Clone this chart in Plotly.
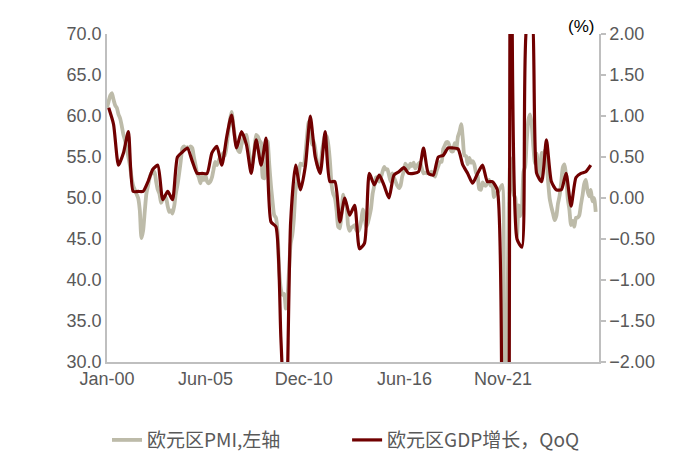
import pandas as pd
import plotly.graph_objects as go

# ---- data ----
# Eurozone composite PMI, monthly, Jan-2000 .. Nov-2024 (left axis)
pmi_start = "2000-01-01"
pmi = [
    61.0, 61.8, 62.5, 62.8, 62.0, 61.3, 61.0, 60.2, 59.7, 58.8, 57.7, 57.0,   # 2000
    56.0, 55.0, 54.0, 52.5, 51.5, 51.0, 50.5, 50.0, 48.5, 45.1, 46.0, 48.3,   # 2001
    50.5, 51.5, 52.4, 53.0, 53.0, 53.2, 52.0, 51.0, 50.5, 49.4, 49.8, 50.2,   # 2002
    50.0, 49.0, 48.3, 48.5, 48.1, 49.0, 50.5, 51.6, 53.0, 54.5, 56.1, 56.3,   # 2003
    56.0, 56.2, 56.0, 56.3, 56.1, 55.0, 54.0, 53.0, 52.5, 51.8, 52.8, 52.2,   # 2004
    52.8, 52.0, 51.8, 52.0, 52.5, 53.5, 54.4, 54.0, 54.5, 55.0, 55.2, 55.5,   # 2005
    55.2, 56.5, 58.0, 59.5, 60.5, 59.0, 57.5, 56.5, 55.8, 55.6, 56.5, 57.2,   # 2006
    57.5, 57.7, 56.5, 55.0, 53.6, 54.5, 56.0, 57.7, 57.5, 57.0, 56.7, 52.5,   # 2007
    52.4, 54.5, 56.9, 54.0, 51.5, 49.5, 47.9, 47.6, 45.9, 41.1, 38.9, 38.2,   # 2008
    38.3, 36.5, 37.6, 41.1, 44.4, 45.5, 47.5, 51.0, 52.0, 53.0, 54.2, 54.1,   # 2009
    54.0, 55.5, 57.5, 59.3, 58.0, 56.5, 57.0, 56.0, 54.5, 53.6, 53.6, 55.5,   # 2010
    56.8, 57.7, 57.5, 56.5, 54.5, 51.6, 50.5, 50.0, 48.5, 46.5, 46.3, 48.0,   # 2011
    50.4, 49.3, 49.1, 46.7, 46.0, 46.4, 46.5, 46.7, 46.1, 45.9, 46.3, 47.2,   # 2012
    48.6, 47.9, 46.5, 46.9, 47.7, 48.7, 50.5, 51.5, 52.5, 52.5, 52.0, 52.5,   # 2013
    53.2, 53.8, 53.5, 53.5, 52.8, 52.0, 53.0, 52.5, 52.0, 51.5, 51.2, 51.5,   # 2014
    52.6, 53.3, 54.2, 53.9, 53.6, 54.2, 53.9, 54.3, 53.6, 53.9, 54.2, 54.3,   # 2015
    53.6, 53.0, 53.1, 53.0, 53.1, 53.1, 53.2, 52.9, 52.6, 53.3, 53.9, 54.4,   # 2016
    54.4, 56.0, 56.4, 56.8, 56.8, 56.3, 55.7, 55.7, 56.7, 56.0, 57.5, 58.1,   # 2017
    59.0, 57.1, 55.2, 55.1, 54.1, 54.9, 54.3, 54.5, 54.1, 53.1, 52.7, 51.1,   # 2018
    51.0, 51.9, 51.6, 51.5, 51.8, 52.2, 51.5, 51.9, 50.1, 50.6, 50.6, 50.9,   # 2019
    51.3, 51.6, 29.7, 13.6, 31.9, 48.5, 54.9, 51.9, 50.4, 50.0, 45.3, 49.1,   # 2020
    47.8, 48.8, 53.2, 53.8, 57.1, 59.5, 60.2, 59.0, 56.2, 54.2, 55.4, 53.3,   # 2021
    52.3, 55.5, 54.9, 55.8, 54.8, 52.0, 49.9, 48.9, 48.1, 47.3, 47.8, 49.3,   # 2022
    50.3, 52.0, 53.7, 54.1, 52.8, 49.9, 48.6, 46.7, 47.2, 46.5, 47.6, 47.6,   # 2023
    47.9, 49.2, 50.3, 51.7, 52.2, 50.9, 50.2, 51.0, 49.6, 50.0, 48.3,         # 2024
]

# Eurozone GDP growth QoQ (%), quarterly Q1-2000 .. Q3-2024 (right axis)
gdp_start = "2000-02-01"   # plotted at mid-quarter month
gdp = [
    1.10, 0.90, 0.40, 0.55,     # 2000
    0.81, 0.08, 0.08, 0.08,     # 2001
    0.20, 0.35, 0.40, -0.02,    # 2002
    0.08, -0.02, 0.50, 0.56,    # 2003
    0.61, 0.45, 0.30, 0.30,     # 2004
    0.30, 0.55, 0.63, 0.40,     # 2005
    0.75, 1.01, 0.61, 0.81,     # 2006
    0.65, 0.30, 0.71, 0.40,     # 2007
    0.73, -0.29, -0.35, -1.70,  # 2008
    -3.00, -0.30, 0.40, 0.10,   # 2009
    0.40, 1.00, 0.50, 0.30,     # 2010
    0.81, 0.20, 0.20, -0.29,    # 2011
    0.00, -0.21, -0.09, -0.62,  # 2012
    -0.55, 0.30, 0.16, 0.28,    # 2013
    0.15, 0.00, 0.28, 0.32,     # 2014
    0.37, 0.30, 0.30, 0.32,     # 2015
    0.61, 0.30, 0.28, 0.50,     # 2016
    0.52, 0.61, 0.61, 0.60,     # 2017
    0.40, 0.30, 0.18, 0.30,     # 2018
    0.40, 0.20, 0.20, 0.10,     # 2019
    -3.50, -11.60, 12.40, -0.50,  # 2020
    -0.60, 2.10, 2.20, 0.30,    # 2021
    0.20, 0.71, 0.20, 0.10,     # 2022
    0.10, 0.30, -0.10, 0.25,    # 2023
    0.30, 0.32, 0.40,           # 2024
]

# category labels shown under the axis, at the positions they occupy in the reference
tick_dates = ["2000-01-01", "2005-01-01", "2010-01-01", "2015-02-15", "2020-02-15"]
tick_text = ["Jan-00", "Jun-05", "Dec-10", "Jun-16", "Nov-21"]

pmi_name = "欧元区PMI,左轴"
gdp_name = "欧元区GDP增长，QoQ"

pmi_dates = pd.date_range(pmi_start, periods=len(pmi), freq="MS")
gdp_dates = pd.date_range(gdp_start, periods=len(gdp), freq="3MS")

GREY = "#BDBBA9"
RED = "#700000"
TXT = "#595959"
AX = "#BFBFBF"

fig = go.Figure()
fig.add_trace(go.Scatter(
    x=pmi_dates, y=pmi, name=pmi_name, mode="lines",
    line=dict(color=GREY, width=3.8, shape="spline", smoothing=0.6),
    yaxis="y", legend="legend",
))
fig.add_trace(go.Scatter(
    x=gdp_dates, y=gdp, name=gdp_name, mode="lines",
    line=dict(color=RED, width=3.2, shape="spline", smoothing=0.6),
    yaxis="y2", legend="legend2",
))

tickfont = dict(family="Liberation Sans, Arial, sans-serif", size=18, color=TXT)
legfont = dict(family="Noto Sans CJK SC, sans-serif", size=19, color=TXT)

fig.update_layout(
    width=700, height=463,
    margin=dict(l=99, r=109, t=26, b=109, autoexpand=False),
    paper_bgcolor="white", plot_bgcolor="white",
    showlegend=True,
    legend=dict(
        orientation="h", x=0.0, xanchor="left", y=-0.238, yanchor="middle",
        font=legfont, bgcolor="rgba(0,0,0,0)",
    ),
    legend2=dict(
        orientation="h", x=0.488, xanchor="left", y=-0.238, yanchor="middle",
        font=legfont, bgcolor="rgba(0,0,0,0)",
    ),
    xaxis=dict(
        type="date", range=["2000-01-01", "2025-01-01"],
        tickvals=tick_dates, ticktext=tick_text,
        showgrid=False, zeroline=False, automargin=False,
        showline=True, linecolor=AX, linewidth=1.5,
        ticks="", tickfont=tickfont,
    ),
    yaxis=dict(
        range=[30, 70], dtick=5, tickformat=".1f",
        showgrid=False, zeroline=False, automargin=False,
        showline=True, linecolor=AX, linewidth=1.5,
        ticks="", tickfont=tickfont,
    ),
    yaxis2=dict(
        range=[-2, 2], dtick=0.5, tickformat=".2f",
        overlaying="y", side="right",
        showgrid=False, zeroline=False, automargin=False,
        showline=True, linecolor=AX, linewidth=1.5,
        ticks="outside", ticklen=5, tickcolor=AX, tickwidth=1.5,
        tickfont=tickfont,
    ),
    annotations=[dict(
        text="(%)", xref="paper", yref="paper", x=0.963, y=1.022,
        xanchor="center", yanchor="middle", showarrow=False,
        font=dict(family="Liberation Sans, Arial, sans-serif", size=17, color="#000000"),
    )],
)

fig.write_html("out.html")
